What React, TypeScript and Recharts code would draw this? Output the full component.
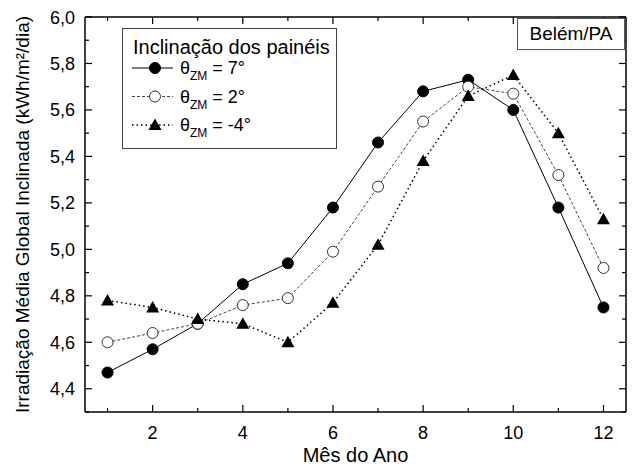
import { LineChart, Line, XAxis, YAxis, Legend } from 'recharts';

// Mês do ano
const meses = [1, 2, 3, 4, 5, 6, 7, 8, 9, 10, 11, 12];
// Irradiação média global inclinada (kWh/m²/dia) por inclinação
const incl7 = [4.47, 4.57, 4.68, 4.85, 4.94, 5.18, 5.46, 5.68, 5.73, 5.6, 5.18, 4.75];
const incl2 = [4.6, 4.64, 4.68, 4.76, 4.79, 4.99, 5.27, 5.55, 5.7, 5.67, 5.32, 4.92];
const inclM4 = [4.78, 4.75, 4.7, 4.68, 4.6, 4.77, 5.02, 5.38, 5.66, 5.75, 5.5, 5.13];

const xTicks = [1, 2, 3, 4, 5, 6, 7, 8, 9, 10, 11, 12];
const xMajor = [2, 4, 6, 8, 10, 12];
const yTicks = [4.3, 4.4, 4.5, 4.6, 4.7, 4.8, 4.9, 5.0, 5.1, 5.2, 5.3, 5.4, 5.5, 5.6, 5.7, 5.8, 5.9, 6.0];
const yMajor = [4.4, 4.6, 4.8, 5.0, 5.2, 5.4, 5.6, 5.8, 6.0];

const data = meses.map((m, i) => ({ mes: m, t7: incl7[i], t2: incl2[i], tm4: inclM4[i] }));

const isMajor = (list: number[], v: number) => list.some((m) => Math.abs(m - v) < 1e-6);
const fmt = (v: number) => v.toFixed(1).replace('.', ',');

const FONT = '"Liberation Sans", Arial, sans-serif';

const YTickLeft = (props: any) => {
  const { x, y, payload } = props;
  const major = isMajor(yMajor, payload.value);
  return (
    <g>
      <line x1={x} x2={x + (major ? 7 : 4)} y1={y} y2={y} stroke="#000" strokeWidth={1.2} />
      {major && (
        <text x={x - 10} y={y} dy={6.5} textAnchor="end" fontSize={18} fill="#000" fontFamily={FONT}>
          {fmt(payload.value)}
        </text>
      )}
    </g>
  );
};

const YTickRight = (props: any) => {
  const { x, y, payload } = props;
  const major = isMajor(yMajor, payload.value);
  return <line x1={x} x2={x - (major ? 7 : 4)} y1={y} y2={y} stroke="#000" strokeWidth={1.2} />;
};

const XTickBottom = (props: any) => {
  const { x, y, payload } = props;
  const major = isMajor(xMajor, payload.value);
  return (
    <g>
      <line x1={x} x2={x} y1={y} y2={y - (major ? 7 : 4)} stroke="#000" strokeWidth={1.2} />
      {major && (
        <text x={x} y={y + 27} textAnchor="middle" fontSize={18} fill="#000" fontFamily={FONT}>
          {payload.value}
        </text>
      )}
    </g>
  );
};

const XTickTop = (props: any) => {
  const { x, y, payload } = props;
  const major = isMajor(xMajor, payload.value);
  return <line x1={x} x2={x} y1={y} y2={y + (major ? 7 : 4)} stroke="#000" strokeWidth={1.2} />;
};

const filledDot = (props: any) => (
  <circle key={`f${props.index}`} cx={props.cx} cy={props.cy} r={5.5} fill="#000" stroke="#000" />
);
const openDot = (props: any) => (
  <circle key={`o${props.index}`} cx={props.cx} cy={props.cy} r={5.5} fill="#fff" stroke="#333" strokeWidth={1} />
);
const triDot = (props: any) => {
  const { cx, cy, index } = props;
  return (
    <polygon
      key={`t${index}`}
      points={`${cx},${cy - 6.5} ${cx - 6.5},${cy + 5} ${cx + 6.5},${cy + 5}`}
      fill="#000"
    />
  );
};

const series = [
  { key: 't7', label: '7°', stroke: '#000', width: 1, dash: undefined as string | undefined, dot: filledDot },
  { key: 't2', label: '2°', stroke: '#444', width: 1, dash: '3 2', dot: openDot },
  { key: 'tm4', label: '-4°', stroke: '#000', width: 1.5, dash: '1.5 3', dot: triDot },
];

const LegendBox = () => (
  <svg width={215} height={121} style={{ display: 'block' }}>
    <rect x={0.5} y={0.5} width={214} height={120} fill="#fff" stroke="#444" strokeWidth={1} />
    <text x={11} y={26} fontSize={20} fill="#000" fontFamily={FONT}>
      Inclinação dos painéis
    </text>
    {series.map((s, i) => {
      const cy = 40 + i * 28.5;
      return (
        <g key={s.key}>
          <line x1={10} x2={51} y1={cy} y2={cy} stroke={s.stroke} strokeWidth={s.width} strokeDasharray={s.dash} />
          {s.dot({ cx: 33, cy, index: 99 })}
          <text x={58} y={cy + 6} fontSize={18} fill="#000" fontFamily={FONT}>
            θ
            <tspan dy={6} fontSize={12}>
              ZM
            </tspan>
            <tspan dy={-6}> = {s.label}</tspan>
          </text>
        </g>
      );
    })}
  </svg>
);

const YTitle = (props: any) => {
  const vb = props.viewBox || { x: 0, y: 0, width: 85, height: 395 };
  const cx = 22;
  const cy = vb.y + vb.height / 2;
  return (
    <text
      x={cx}
      y={cy}
      transform={`rotate(-90 ${cx} ${cy})`}
      textAnchor="middle"
      dy={7}
      fontSize={19}
      fill="#000"
      fontFamily={FONT}
    >
      Irradiação Média Global Inclinada (kWh/m²/dia)
    </text>
  );
};

const XTitle = (props: any) => {
  const vb = props.viewBox || { x: 85, y: 412, width: 541, height: 58 };
  return (
    <text x={vb.x + vb.width / 2} y={462} textAnchor="middle" fontSize={20} fill="#000" fontFamily={FONT}>
      Mês do Ano
    </text>
  );
};

export default function App() {
  return (
    <div style={{ position: 'absolute', left: 0, top: 0, width: 633, height: 470, background: '#fff', fontFamily: FONT }}>
      <LineChart width={633} height={470} data={data} margin={{ top: 0, right: 0, bottom: 0, left: 0 }}>
        <XAxis
          dataKey="mes"
          type="number"
          domain={[0.5, 12.5]}
          ticks={xTicks}
          interval={0}
          allowDataOverflow
          height={58}
          tickSize={0}
          tickMargin={0}
          tickLine={false}
          tick={<XTickBottom />}
          axisLine={{ stroke: '#000', strokeWidth: 1.5 }}
          label={(p: any) => <XTitle {...p} />}
        />
        <XAxis
          xAxisId="top"
          orientation="top"
          dataKey="mes"
          type="number"
          domain={[0.5, 12.5]}
          ticks={xTicks}
          interval={0}
          allowDataOverflow
          height={17}
          tickSize={0}
          tickMargin={0}
          tickLine={false}
          tick={<XTickTop />}
          axisLine={{ stroke: '#000', strokeWidth: 1.5 }}
        />
        <YAxis
          type="number"
          domain={[4.3, 6.0]}
          ticks={yTicks}
          interval={0}
          allowDataOverflow
          width={85}
          tickSize={0}
          tickMargin={0}
          tickLine={false}
          tick={<YTickLeft />}
          axisLine={{ stroke: '#000', strokeWidth: 1.5 }}
          label={(p: any) => <YTitle {...p} />}
        />
        <YAxis
          yAxisId="right"
          orientation="right"
          type="number"
          domain={[4.3, 6.0]}
          ticks={yTicks}
          interval={0}
          allowDataOverflow
          width={7}
          tickSize={0}
          tickMargin={0}
          tickLine={false}
          tick={<YTickRight />}
          axisLine={{ stroke: '#000', strokeWidth: 1.5 }}
        />
        {series.map((s) => (
          <Line
            key={s.key}
            type="linear"
            dataKey={s.key}
            stroke={s.stroke}
            strokeWidth={s.width}
            strokeDasharray={s.dash}
            dot={s.dot}
            activeDot={false}
            isAnimationActive={false}
          />
        ))}
        <Legend
          layout="vertical"
          align="center"
          verticalAlign="middle"
          content={<LegendBox />}
          wrapperStyle={{ position: 'absolute', left: 122, top: 28, width: 215, height: 121 }}
        />
      </LineChart>
      <div
        style={{
          position: 'absolute',
          left: 517,
          top: 18,
          width: 106,
          height: 30,
          border: '1px solid #555',
          background: '#fff',
          fontSize: 19,
          lineHeight: '30px',
          textAlign: 'center',
          color: '#000',
        }}
      >
        Belém/PA
      </div>
    </div>
  );
}
